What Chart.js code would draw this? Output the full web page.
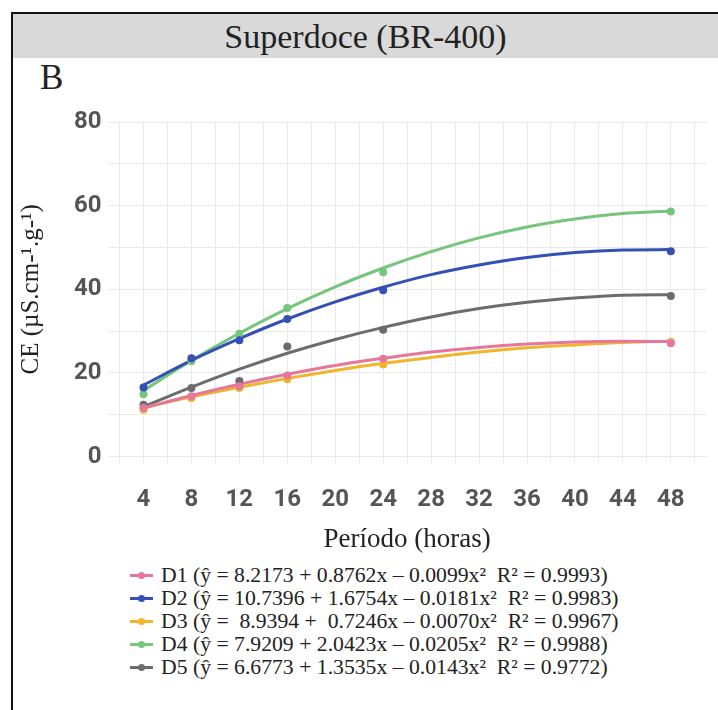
<!DOCTYPE html>
<html>
<head>
<meta charset="utf-8">
<script src="https://cdn.jsdelivr.net/npm/chart.js@4"></script>
<style>
  html, body { margin: 0; padding: 0; background: #fff; }
  #page { position: relative; width: 718px; height: 710px; overflow: hidden; }
  #frame { position: absolute; left: 11px; top: 12px; right: -4px; bottom: -4px; border-top: 2px solid #111; border-left: 2px solid #111; }
  #band { position: absolute; left: 13px; top: 14px; right: 0; height: 44px; background: #d9d9d9; }
  #title { position: absolute; left: 13px; right: 0; top: 14px; height: 44px; line-height: 46px; text-align: center;
    font-family: "Liberation Serif", "Times New Roman", serif; font-size: 34px; color: #222; }
  #panel { position: absolute; left: 40px; top: 58px; font-family: "Liberation Serif", serif; font-size: 35px; color: #222; }
  #wrap { position: absolute; left: 0; top: 100px; width: 718px; height: 460px; }
  #legend { position: absolute; left: 130px; top: 564px; list-style: none; margin: 0; padding: 0;
    font-family: "Liberation Serif", "Times New Roman", serif; font-size: 21.7px; color: #222; }
  #legend li { height: 23px; line-height: 23px; white-space: pre; display: flex; align-items: center; }
  #legend .mark { position: relative; width: 23px; height: 3px; margin-right: 8px; }
  #legend .mark i { position: absolute; left: 8px; top: -2.5px; width: 7px; height: 7px; border-radius: 50%; }
</style>
</head>
<body>
<div id="page">
  <div id="band"></div>
  <div id="frame"></div>
  <div id="title">Superdoce (BR-400)</div>
  <div id="panel">B</div>
  <div id="wrap"><canvas id="chart" width="718" height="460"></canvas></div>
  <ul id="legend"></ul>
</div>
<script>
// observed values (horas)
const hours = [4, 8, 12, 16, 24, 48];
const d1Obs = [11.6, 14.4, 16.8, 19.4, 23.4, 27.1];
const d2Obs = [16.5, 23.5, 27.8, 32.9, 39.8, 49.1];
const d3Obs = [11.2, 14.0, 16.4, 18.5, 22.0, 27.4];
const d4Obs = [14.9, 22.8, 29.4, 35.5, 44.1, 58.6];
const d5Obs = [12.4, 16.4, 18.1, 26.3, 30.3, 38.4];

// fitted curves
const fitHours = [4, 8, 12, 16, 20, 24, 28, 32, 36, 40, 44, 48];
const d1Fit = [11.6, 14.6, 17.3, 19.7, 21.8, 23.5, 25.0, 26.1, 26.9, 27.4, 27.6, 27.5];
const d2Fit = [17.1, 23.0, 28.2, 32.9, 37.0, 40.5, 43.5, 45.8, 47.6, 48.8, 49.4, 49.5];
const d3Fit = [11.7, 14.3, 16.6, 18.7, 20.6, 22.3, 23.7, 25.0, 26.0, 26.7, 27.3, 27.6];
const d4Fit = [15.8, 23.0, 29.5, 35.4, 40.6, 45.1, 49.0, 52.3, 54.9, 56.8, 58.1, 58.7];
const d5Fit = [11.9, 16.6, 20.9, 24.7, 28.0, 30.9, 33.4, 35.4, 36.9, 37.9, 38.6, 38.7];

const xGridTicks = [2, 4, 6, 8, 10, 12, 14, 16, 18, 20, 22, 24, 26, 28, 30, 32, 34, 36, 38, 40, 42, 44, 46, 48, 50];

const seriesLabels = [
  "D1 (ŷ = 8.2173 + 0.8762x – 0.0099x²  R² = 0.9993)",
  "D2 (ŷ = 10.7396 + 1.6754x – 0.0181x²  R² = 0.9983)",
  "D3 (ŷ =  8.9394 +  0.7246x – 0.0070x²  R² = 0.9967)",
  "D4 (ŷ = 7.9209 + 2.0423x – 0.0205x²  R² = 0.9988)",
  "D5 (ŷ = 6.6773 + 1.3535x – 0.0143x²  R² = 0.9772)"
];
const colors = ["#e6779b", "#3550b5", "#f1b52c", "#76c57d", "#6c6c6c"];

const obs = [d1Obs, d2Obs, d3Obs, d4Obs, d5Obs];
const fits = [d1Fit, d2Fit, d3Fit, d4Fit, d5Fit];

const datasets = [];
fits.forEach((fit, i) => {
  datasets.push({
    label: seriesLabels[i],
    data: fitHours.map((h, j) => ({ x: h, y: fit[j] })),
    borderColor: colors[i],
    backgroundColor: colors[i],
    borderWidth: 3,
    pointRadius: 0,
    cubicInterpolationMode: "monotone",
    order: 2
  });
});
obs.forEach((vals, i) => {
  datasets.push({
    label: seriesLabels[i] + " obs",
    data: hours.map((h, j) => ({ x: h, y: vals[j] })),
    showLine: false,
    borderColor: colors[i],
    backgroundColor: colors[i],
    pointRadius: 4,
    pointBorderWidth: 0,
    order: 1
  });
});

const tickFont = { family: "Roboto, sans-serif", size: 24, weight: "bold", lineHeight: 1 };

new Chart(document.getElementById("chart"), {
  type: "line",
  data: { datasets },
  options: {
    responsive: false,
    animation: false,
    layout: { padding: { left: 10, right: 10, top: 22, bottom: 4 } },
    plugins: { legend: { display: false }, tooltip: { enabled: false } },
    scales: {
      x: {
        type: "linear",
        min: 1,
        max: 51,
        afterBuildTicks: (axis) => { axis.ticks = xGridTicks.map((v) => ({ value: v })); },
        ticks: {
          autoSkip: false,
          maxRotation: 0,
          padding: 23,
          color: "#555",
          font: tickFont,
          callback: (v) => (v % 4 === 0 ? String(v) : "")
        },
        grid: { color: "#e9e9e9", tickLength: 8, tickColor: "#ececec" },
        border: { display: false },
        title: {
          display: true,
          text: "Período (horas)",
          color: "#222",
          font: { family: "'Liberation Serif', 'Times New Roman', serif", size: 27 },
          padding: { top: -11, bottom: 0 }
        }
      },
      y: {
        min: 0,
        max: 80,
        ticks: {
          stepSize: 10,
          padding: 6,
          color: "#555",
          font: tickFont,
          callback: (v) => (v % 20 === 0 ? String(v) : "")
        },
        grid: { color: "#e9e9e9", drawTicks: false },
        border: { display: false },
        title: {
          display: true,
          text: "CE (µS.cm-¹.g-¹)",
          color: "#222",
          font: { family: "'Liberation Serif', 'Times New Roman', serif", size: 25 },
          padding: { top: 6, bottom: 22 }
        }
      }
    }
  }
});

const legendEl = document.getElementById("legend");
seriesLabels.forEach((label, i) => {
  const li = document.createElement("li");
  const mark = document.createElement("span");
  mark.className = "mark";
  mark.style.background = colors[i];
  const dot = document.createElement("i");
  dot.style.background = colors[i];
  mark.appendChild(dot);
  li.appendChild(mark);
  li.appendChild(document.createTextNode(label));
  legendEl.appendChild(li);
});
</script>
</body>
</html>
